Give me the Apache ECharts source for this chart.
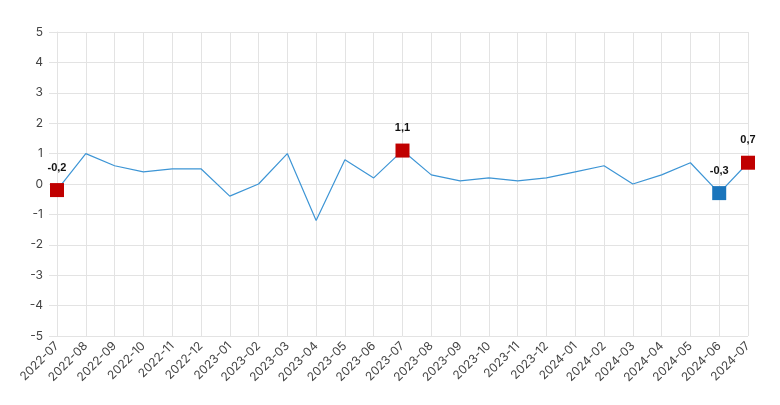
<!DOCTYPE html>
<html><head><meta charset="utf-8">
<script src="https://cdn.jsdelivr.net/npm/echarts@6/dist/echarts.min.js"></script>
<style>html,body{margin:0;padding:0;background:#fff}#c{width:780px;height:405px}</style>
</head><body><div id="c"></div>
<script>
const categories = ['2022-07','2022-08','2022-09','2022-10','2022-11','2022-12','2023-01','2023-02','2023-03','2023-04','2023-05','2023-06','2023-07','2023-08','2023-09','2023-10','2023-11','2023-12','2024-01','2024-02','2024-03','2024-04','2024-05','2024-06','2024-07'];
const values = [-0.2,1.0,0.6,0.4,0.5,0.5,-0.4,0.0,1.0,-1.2,0.8,0.2,1.1,0.3,0.1,0.2,0.1,0.2,0.4,0.6,0.0,0.3,0.7,-0.3,0.7];
const highlightIdx = [0, 12, 24];
const lowIdx = [23];

const data = values.map((v,i)=>{
  if (highlightIdx.includes(i) || lowIdx.includes(i)) {
    const col = lowIdx.includes(i) ? '#1a75bc' : '#c00000';
    return {value:v, symbol:'rect', symbolSize:14, itemStyle:{color:col},
      label:{show:true, position:'top', distance:10, fontWeight:'bold', fontSize:11, color:'#111',
        formatter: p => String(p.value.toFixed(1)).replace('.',',')}};
  }
  return {value:v, symbol:'none'};
});

const chart = echarts.init(document.getElementById('c'), null, {renderer:'canvas'});
chart.setOption({
  animation:false,
  grid:{left:57, right:32, top:32, bottom:69},
  xAxis:{type:'category', data:categories, boundaryGap:false,
    axisLine:{show:true, lineStyle:{color:'#e3e3e3'}},
    axisTick:{show:true, alignWithLabel:true, length:6, lineStyle:{color:'#e3e3e3'}},
    splitLine:{show:true, lineStyle:{color:'#e3e3e3'}},
    axisLabel:{rotate:45, color:'#444', fontSize:12, interval:0, margin:8, fontFamily:'Inter, sans-serif'}},
  yAxis:{type:'value', min:-5, max:5, interval:1,
    axisLine:{show:true, lineStyle:{color:'#e3e3e3'}},
    axisTick:{show:true, length:8, lineStyle:{color:'#e3e3e3'}},
    splitLine:{show:true, lineStyle:{color:'#e3e3e3'}},
    axisLabel:{color:'#444', fontSize:12, margin:14, fontFamily:'Inter, sans-serif'}},
  series:[{type:'line', data:data, showSymbol:true, lineStyle:{color:'#3d95d5', width:1.2},
    itemStyle:{color:'#3d95d5'}}]
});
</script></body></html>
